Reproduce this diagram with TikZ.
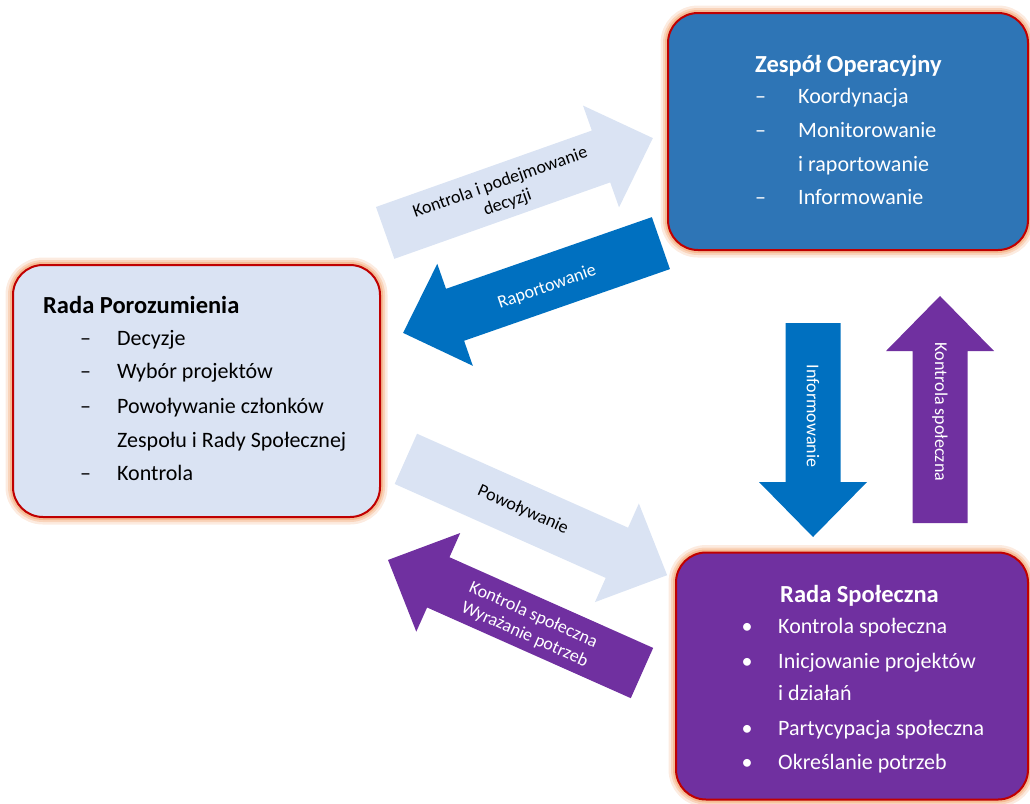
\documentclass[tikz,border=0pt]{standalone}
\usepackage{fontspec}
\setmainfont{Carlito}
\definecolor{boxblue}{HTML}{2E75B6}
\definecolor{boxlight}{HTML}{DAE3F3}
\definecolor{boxpurple}{HTML}{7030A0}
\definecolor{arrblue}{HTML}{0070C0}
\definecolor{arrlight}{HTML}{DAE3F3}
\definecolor{arrpurple}{HTML}{7030A0}
\definecolor{bordred}{HTML}{C00000}
\definecolor{glowc}{HTML}{F4B183}
\tikzset{
  box/.style={rectangle, rounded corners=30pt, draw=bordred, line width=2pt,
    inner sep=0pt,
    preaction={draw=glowc, line width=15pt, opacity=0.25},
    preaction={draw=glowc, line width=10pt, opacity=0.4},
    preaction={draw=glowc, line width=6pt, opacity=0.7}},
  boxtxt/.style={anchor=base west, inner sep=0pt, font=\fontsize{22}{26}\selectfont},
  boxtitle/.style={anchor=base west, inner sep=0pt, font=\fontsize{24.5}{28}\selectfont\bfseries},
  bullet/.style={anchor=base, inner sep=0pt, font=\fontsize{22}{26}\selectfont},
  arrtxt/.style={align=center, inner sep=0pt, font=\fontsize{18}{21.5}\selectfont},
}
% #1 name, #2 center, #3 angle, #4 length, #5 colour
\newcommand\blockarrow[5]{%
  \begin{scope}[shift={#2}, rotate=#3]
    \fill[#5] ({-#4/2},-27.5) -- ({#4/2-55},-27.5) -- ({#4/2-55},-54) -- ({#4/2},0)
      -- ({#4/2-55},54) -- ({#4/2-55},27.5) -- ({-#4/2},27.5) -- cycle;
    \coordinate (#1) at (0,0);
  \end{scope}}
\begin{document}
\begin{tikzpicture}[x=1pt,y=-1pt]
\useasboundingbox (0,0) rectangle (1030,803);
\clip (0,0) rectangle (1030,803);

% arrows
\blockarrow{a1}{(519,185.5)}{19.5}{284}{arrlight}
\blockarrow{a2}{(532,288)}{199.2}{273}{arrblue}
\blockarrow{a3}{(536.5,517)}{-24}{286}{arrlight}
\blockarrow{a4}{(515,616.5)}{156}{278}{arrpurple}
\blockarrow{a5}{(813,430)}{-90}{214}{arrblue}
\blockarrow{a6}{(940,409.5)}{90}{227}{arrpurple}

\node[arrtxt, rotate=19.5] (t1) at (504,193) {Kontrola i podejmowanie\\decyzji};
\node[arrtxt, rotate=19.2, text=white] (t2) at (547,287) {Raportowanie};
\node[arrtxt, rotate=-24] (t3) at (523,510) {Powoływanie};
\node[arrtxt, rotate=-24, text=white] (t4) at (529,625) {Kontrola społeczna\\Wyrażanie potrzeb};
\node[arrtxt, rotate=-90, text=white] (t5) at (813,416) {Informowanie};
\node[arrtxt, rotate=-90, text=white] (t6) at (940,412) {Kontrola społeczna};

% boxes
\node[box, fill=boxblue, minimum width=360pt, minimum height=237pt] (zo) at (848,131.5) {};
\node[box, fill=boxlight, minimum width=367pt, minimum height=252pt] (rp) at (196.5,391) {};
\node[box, fill=boxpurple, minimum width=352pt, minimum height=247pt] (rs) at (852,676) {};

% Zespół Operacyjny
\begin{scope}[every node/.append style={text=white}]
\node[boxtitle] (zo0) at (755,72) {Zespół Operacyjny};
\node[boxtxt] (zod1) at (755,103) {–};
\node[boxtxt] (zo1) at (798,103) {Koordynacja};
\node[boxtxt] (zod2) at (755,137) {–};
\node[boxtxt] (zo2) at (798,137) {Monitorowanie};
\node[boxtxt] (zo3) at (798,171) {i raportowanie};
\node[boxtxt] (zod4) at (755,204) {–};
\node[boxtxt] (zo4) at (798,204) {Informowanie};
\end{scope}

% Rada Porozumienia
\node[boxtitle] (rp0) at (43,313) {Rada Porozumienia};
\node[boxtxt] (rpd1) at (80,345) {–};
\node[boxtxt] (rp1) at (117,345) {Decyzje};
\node[boxtxt] (rpd2) at (80,378) {–};
\node[boxtxt] (rp2) at (117,378) {Wybór projektów};
\node[boxtxt] (rpd3) at (80,413) {–};
\node[boxtxt] (rp3) at (117,413) {Powoływanie członków};
\node[boxtxt] (rp4) at (117,447) {Zespołu i Rady Społecznej};
\node[boxtxt] (rpd5) at (80,480) {–};
\node[boxtxt] (rp5) at (117,480) {Kontrola};

% Rada Społeczna
\begin{scope}[every node/.append style={text=white}]
\node[boxtitle] (rs0) at (780,602) {Rada Społeczna};
\node[bullet] (rsb1) at (747,633) {•};
\node[boxtxt] (rs1) at (778,633) {Kontrola społeczna};
\node[bullet] (rsb2) at (747,668) {•};
\node[boxtxt] (rs2) at (778,668) {Inicjowanie projektów};
\node[boxtxt] (rs3) at (778,700) {i działań};
\node[bullet] (rsb4) at (747,735) {•};
\node[boxtxt] (rs4) at (778,735) {Partycypacja społeczna};
\node[bullet] (rsb5) at (747,769) {•};
\node[boxtxt] (rs5) at (778,769) {Określanie potrzeb};
\end{scope}
\end{tikzpicture}
\end{document}
